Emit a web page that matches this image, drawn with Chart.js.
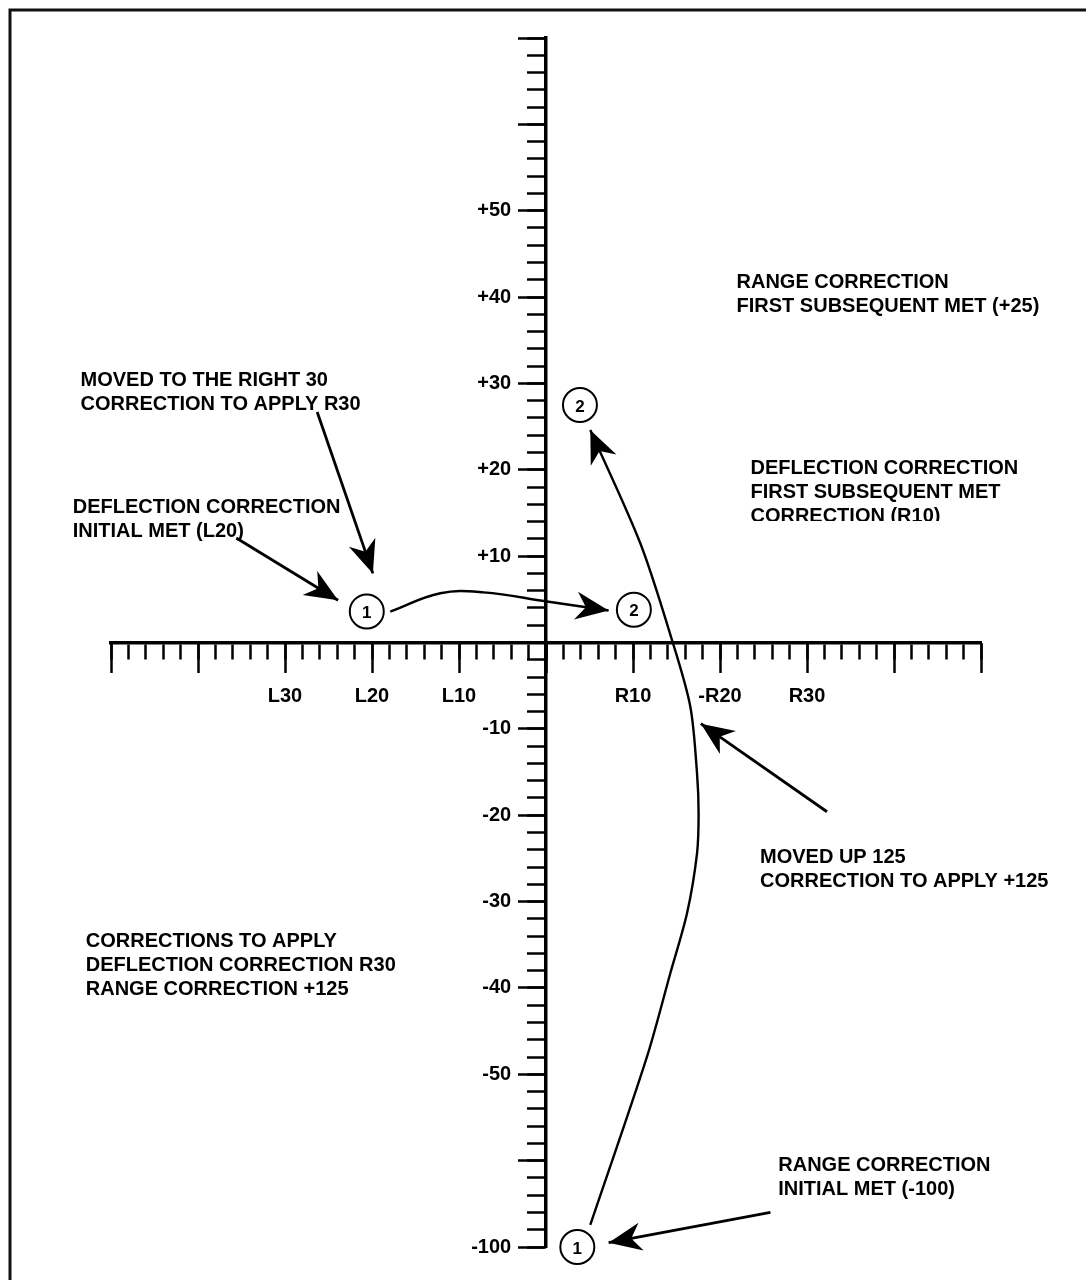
<!DOCTYPE html>
<html>
<head>
<meta charset="utf-8">
<script src="https://cdn.jsdelivr.net/npm/chart.js@4.4.1/dist/chart.umd.min.js"></script>
<style>
  html, body { margin: 0; padding: 0; background: #fff; }
  #wrap { width: 1086px; height: 1280px; }
</style>
</head>
<body>
<div id="wrap"><canvas id="chart" width="1086" height="1280"></canvas></div>
<script>
// axis labels (values in scale units; -70 on the vertical scale is the broken "-100" mark)
const xMajorTicks = [-30, -20, -10, 10, 20, 30];
const xTickLabels = ['L30', 'L20', 'L10', 'R10', '-R20', 'R30'];
const yMajorTicks = [50, 40, 30, 20, 10, -10, -20, -30, -40, -50, -70];
const yTickLabels = ['+50', '+40', '+30', '+20', '+10', '-10', '-20', '-30', '-40', '-50', '-100'];

// deflection move: burst 1 (L20) -> burst 2 (R10)
const deflX = [-17.9, -12.15, -7.17, 0.11, 7.2];
const deflY = [3.57, 5.70, 5.81, 4.75, 3.71];

// range move: burst 1 (-100) -> burst 2 (+25)
const rangeX = [5.09, 11.61, 14.29, 16.21, 17.36, 17.54, 17.36, 16.59, 14.48, 10.84, 5.09];
const rangeY = [-67.45, -47.96, -38.3, -31.36, -24.41, -19.78, -15.15, -7.43, 0.29, 11.49, 24.61];

// burst markers
const markX = [-20.6, 10.1, 3.9, 3.6];
const markY = [3.6, 3.8, 27.5, -70.0];
const markNum = ['1', '2', '2', '1'];

// pointer arrows from the notes
const pointFromX = [-35.6, -26.3, 32.3, 25.8];
const pointFromY = [12.1, 26.7, -19.6, -66.0];
const pointToX = [-23.9, -19.9, 17.8, 7.2];
const pointToY = [4.9, 8.0, -9.4, -69.5];

// notes: text lines and left/middle anchor of first line
const noteText = [
  ['RANGE CORRECTION', 'FIRST SUBSEQUENT MET (+25)'],
  ['MOVED TO THE RIGHT 30', 'CORRECTION TO APPLY R30'],
  ['DEFLECTION CORRECTION', 'FIRST SUBSEQUENT MET', 'CORRECTION (R10)'],
  ['DEFLECTION CORRECTION', 'INITIAL MET (L20)'],
  ['MOVED UP 125', 'CORRECTION TO APPLY +125'],
  ['CORRECTIONS TO APPLY', 'DEFLECTION CORRECTION R30', 'RANGE CORRECTION +125'],
  ['RANGE CORRECTION', 'INITIAL MET (-100)']
];
const noteX = [21.9, -53.5, 23.5, -54.4, 24.6, -52.9, 26.7];
const noteY = [41.7, 30.3, 20.2, 15.6, -24.9, -34.6, -60.6];

const FONT = '"Liberation Sans", Arial, sans-serif';
const clippedNote = 2;

function pts(xs, ys) { return xs.map((x, i) => ({ x: x, y: ys[i] })); }

function noSpace(scale) {
  if (scale.isHorizontal()) scale.height = 0; else scale.width = 0;
  scale.paddingTop = scale.paddingBottom = scale.paddingLeft = scale.paddingRight = 0;
}

function drawHead(ctx, fx, fy, tx, ty) {
  const a = Math.atan2(ty - fy, tx - fx);
  ctx.save();
  ctx.translate(tx, ty);
  ctx.rotate(a);
  ctx.beginPath();
  ctx.moveTo(0, 0);
  ctx.lineTo(-33, -14);
  ctx.lineTo(-23, 0);
  ctx.lineTo(-33, 14);
  ctx.closePath();
  ctx.fillStyle = '#000';
  ctx.fill();
  ctx.restore();
}

const datasets = [
  { data: pts(deflX, deflY), showLine: true, tension: 0.4, borderColor: '#000', borderWidth: 2.4, pointRadius: 0, clip: false, arrowHead: true },
  { data: pts(rangeX, rangeY), showLine: true, tension: 0.3, borderColor: '#000', borderWidth: 2.4, pointRadius: 0, clip: false, arrowHead: true }
];
pointFromX.forEach((fx, i) => {
  datasets.push({
    data: [{ x: fx, y: pointFromY[i] }, { x: pointToX[i], y: pointToY[i] }],
    showLine: true, tension: 0, borderColor: '#000', borderWidth: 2.8, pointRadius: 0, clip: false, arrowHead: true
  });
});
datasets.push({
  data: pts(markX, markY), showLine: false, pointRadius: 17, pointBorderWidth: 2,
  pointBackgroundColor: '#fff', pointBorderColor: '#000', clip: false, markers: true
});

const overlay = {
  id: 'overlay',
  beforeDraw(chart) {
    const ctx = chart.ctx;
    ctx.save();
    ctx.fillStyle = '#fff';
    ctx.fillRect(0, 0, chart.width, chart.height);
    ctx.strokeStyle = '#111';
    ctx.lineWidth = 3;
    ctx.beginPath();
    ctx.moveTo(10, chart.height);
    ctx.lineTo(10, 10);
    ctx.lineTo(chart.width, 10);
    ctx.stroke();
    ctx.restore();
  },
  afterDatasetsDraw(chart) {
    const ctx = chart.ctx;
    const xs = chart.scales.x, ys = chart.scales.y;
    chart.data.datasets.forEach((ds, i) => {
      const els = chart.getDatasetMeta(i).data;
      if (ds.arrowHead) {
        const a = els[els.length - 2], b = els[els.length - 1];
        drawHead(ctx, a.x, a.y, b.x, b.y);
      }
      if (ds.markers) {
        ctx.save();
        ctx.fillStyle = '#000';
        ctx.font = 'bold 17px ' + FONT;
        ctx.textAlign = 'center';
        ctx.textBaseline = 'middle';
        els.forEach((el, j) => ctx.fillText(markNum[j], el.x, el.y + 2));
        ctx.restore();
      }
    });
    ctx.save();
    ctx.fillStyle = '#000';
    ctx.font = 'bold 20px ' + FONT;
    ctx.textAlign = 'left';
    ctx.textBaseline = 'middle';
    noteText.forEach((lines, i) => {
      const px = xs.getPixelForValue(noteX[i]);
      const py = ys.getPixelForValue(noteY[i]);
      ctx.save();
      if (i === clippedNote) {
        ctx.beginPath();
        ctx.rect(0, 0, chart.width, py + 24 * (lines.length - 1) + 5);
        ctx.clip();
      }
      lines.forEach((t, k) => ctx.fillText(t, px, py + k * 24));
      ctx.restore();
    });
    ctx.restore();
  }
};

const tickFont = { family: FONT, size: 20, weight: 'bold' };
const tickGrid = (len) => ({ drawOnChartArea: false, drawTicks: true, tickLength: len, tickWidth: 2.5, tickColor: '#000' });

new Chart(document.getElementById('chart'), {
  type: 'scatter',
  data: { datasets: datasets },
  options: {
    responsive: false,
    devicePixelRatio: 1,
    animation: false,
    layout: { padding: { left: 111, right: 105, top: 38, bottom: 33 } },
    plugins: { legend: { display: false }, tooltip: { enabled: false } },
    scales: {
      x: {
        type: 'linear', min: -50, max: 50, position: { y: 0 },
        afterFit: noSpace,
        border: { display: true, color: '#000', width: 3.5 },
        grid: tickGrid(15),
        ticks: { stepSize: 2, autoSkip: false, maxRotation: 0, callback: () => '' }
      },
      x2: {
        type: 'linear', axis: 'x', min: -50, max: 50, position: { y: 0 },
        afterFit: noSpace,
        border: { display: false },
        grid: tickGrid(30),
        ticks: {
          stepSize: 10, autoSkip: false, maxRotation: 0, padding: 12, color: '#000', font: tickFont,
          callback: (v) => { const i = xMajorTicks.indexOf(v); return i >= 0 ? xTickLabels[i] : ''; }
        }
      },
      y: {
        type: 'linear', min: -70, max: 70, position: { x: 0 },
        afterFit: noSpace,
        border: { display: true, color: '#000', width: 3.5 },
        grid: tickGrid(17),
        ticks: { stepSize: 2, autoSkip: false, callback: () => '' }
      },
      y3: {
        type: 'linear', axis: 'y', min: -70, max: 70, position: { x: 0 },
        afterFit: noSpace,
        border: { display: false },
        grid: tickGrid(28),
        ticks: { stepSize: 10, autoSkip: false, callback: () => '' }
      },
      y2: {
        // label column, set just left of the long ticks
        type: 'linear', axis: 'y', min: -70, max: 70, position: { x: -4.0 },
        afterFit: noSpace,
        border: { display: false },
        grid: { drawOnChartArea: false, drawTicks: false },
        ticks: {
          stepSize: 10, autoSkip: false, padding: 0, color: '#000', font: tickFont,
          callback: (v) => { const i = yMajorTicks.indexOf(v); return i >= 0 ? yTickLabels[i] : ''; }
        }
      }
    }
  },
  plugins: [overlay]
});
</script>
</body>
</html>
